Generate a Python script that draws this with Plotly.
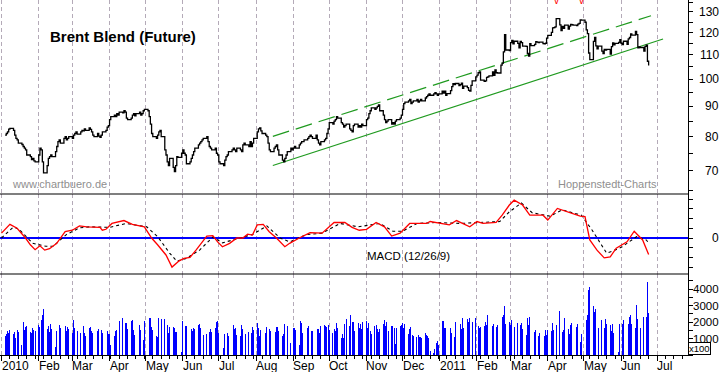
import math
import pandas as pd
import plotly.graph_objects as go

# ---------------- daily closes (USD/bbl), one list per month ----------------
close_2010_01 = [80.5, 81.0, 81.5, 82.4, 82.6, 82.0, 80.5, 79.5, 79.0, 78.0, 77.6, 77.0, 76.5, 76.0, 74.5, 74.0, 73.2, 73.5, 72.8, 72.5]
close_2010_02 = [74.5, 76.5, 76.0, 72.5, 69.5, 71.5, 73.5, 74.0, 74.5, 74.0, 75.5, 77.0, 78.5, 79.0, 78.0, 79.5, 80.0, 79.0, 79.5, 80.0]
close_2010_03 = [79.5, 80.5, 81.0, 81.5, 80.8, 81.5, 82.0, 81.8, 82.5, 82.0, 82.8, 82.3, 81.5, 80.5, 80.0, 81.0, 80.2, 79.8, 80.5, 81.5, 82.0, 83.0, 83.5]
close_2010_04 = [85.5, 86.5, 87.0, 86.5, 87.5, 87.0, 88.0, 87.8, 88.5, 88.0, 86.0, 85.5, 86.0, 87.0, 87.5, 86.8, 87.5, 88.0, 87.0, 87.5, 88.5, 89.0]
close_2010_05 = [88.5, 86.5, 84.0, 81.0, 80.0, 79.5, 80.5, 81.5, 82.0, 80.0, 76.0, 74.5, 72.5, 71.5, 73.5, 71.0, 69.8, 71.5, 74.0, 73.8, 75.0]
close_2010_06 = [76.0, 75.0, 74.5, 72.0, 72.5, 73.5, 74.5, 75.5, 76.5, 77.5, 78.0, 78.5, 79.0, 79.5, 80.0, 78.5, 77.0, 76.5, 76.0, 76.5, 75.0, 74.5]
close_2010_07 = [72.5, 72.0, 71.5, 73.0, 74.0, 74.5, 75.5, 76.0, 76.5, 76.0, 75.5, 76.5, 76.0, 75.5, 77.5, 78.0, 77.5, 77.0, 78.5, 77.0, 78.0, 79.5]
close_2010_08 = [81.5, 82.5, 82.8, 81.8, 81.0, 80.5, 80.0, 78.0, 76.0, 75.5, 76.5, 77.0, 77.5, 76.0, 74.5, 73.0, 72.5, 73.5, 74.5, 75.5, 76.5, 76.0]
close_2010_09 = [76.5, 77.0, 76.5, 77.5, 78.0, 78.5, 78.5, 79.0, 79.5, 80.0, 80.5, 80.0, 79.5, 80.5, 79.0, 78.0, 77.5, 78.5, 79.0, 79.5, 81.0, 82.5]
close_2010_10 = [84.5, 84.0, 85.0, 85.5, 86.5, 86.0, 84.5, 84.0, 83.0, 83.5, 84.0, 82.5, 82.0, 81.5, 83.5, 84.0, 83.0, 83.5, 83.0, 84.0, 83.5]
close_2010_11 = [85.5, 86.0, 87.5, 88.5, 89.5, 89.0, 89.5, 90.0, 90.5, 88.5, 87.0, 85.5, 84.5, 85.0, 85.5, 84.0, 84.5, 84.0, 85.0, 85.5, 86.0, 87.0]
close_2010_12 = [89.0, 91.0, 91.5, 92.0, 92.5, 91.0, 91.5, 92.0, 92.5, 91.5, 92.0, 92.5, 92.0, 93.0, 93.5, 94.0, 94.5, 94.0, 94.5, 95.0, 94.5, 94.0, 94.5]
close_2011_01 = [95.5, 94.8, 95.5, 94.0, 94.6, 95.7, 97.2, 98.3, 98.0, 98.4, 97.6, 98.0, 98.5, 96.6, 97.4, 96.8, 95.8, 95.5, 97.7, 99.4, 101.0]
close_2011_02 = [101.7, 102.6, 102.9, 99.7, 99.2, 99.4, 100.8, 101.0, 101.4, 102.9, 101.6, 103.8, 102.6, 102.5, 105.7, 106.5, 111.3, 119.0, 112.1, 111.8]
close_2011_03 = [115.4, 116.4, 114.8, 116.0, 115.0, 113.1, 115.9, 115.4, 113.8, 113.7, 110.6, 109.5, 114.9, 114.0, 114.6, 115.8, 115.6, 115.4, 115.6, 114.9, 114.8, 115.1, 117.4]
close_2011_04 = [118.7, 120.1, 122.2, 122.3, 122.7, 126.7, 123.6, 120.9, 122.9, 122.0, 123.5, 121.6, 123.0, 123.9, 123.7, 123.5, 123.3, 124.0, 124.4, 126.0, 125.9]
close_2011_05 = [124.9, 121.2, 119.5, 110.8, 108.0, 115.9, 117.7, 113.9, 112.6, 113.8, 111.6, 110.6, 112.4, 112.1, 112.4, 110.3, 113.6, 115.2, 114.4, 115.0, 115.5, 116.7]
close_2011_06 = [115.1, 114.5, 116.0, 114.6, 117.1, 117.7, 119.4, 118.8, 120.5, 119.0, 113.0, 113.5, 113.2, 111.6, 113.7, 114.2, 107.3, 105.5]

# ---------------- daily volume (x100 contracts), one list per month ----------------
vol_2010_01 = [1140, 1300, 1440, 1350, 1500, 1260, 1380, 1020, 1500, 1380, 600, 1980, 1500, 1680, 1740, 1380, 1320, 1620, 1500, 1440]
vol_2010_02 = [1800, 1700, 2100, 2400, 2760, 1560, 1740, 1380, 1860, 1560, 480, 1440, 1680, 1800, 1620, 1380, 1740, 1440, 1680, 1560]
vol_2010_03 = [1320, 2100, 1620, 1800, 1440, 1320, 1320, 1740, 1320, 1140, 1620, 1680, 1440, 1320, 1680, 1440, 1560, 1500, 1500, 1320, 1260, 1440, 1260]
vol_2010_04 = [1260, 600, 1140, 1440, 1500, 1800, 2040, 2220, 1680, 1920, 1920, 1560, 2040, 2100, 1500, 1200, 1860, 1800, 1500, 1440, 900, 2040]
vol_2010_05 = [2100, 2220, 2220, 1680, 1500, 1140, 1080, 2220, 1920, 2160, 2160, 2400, 1800, 1320, 1680, 1680, 1620, 1380, 1380, 1500, 180]
vol_2010_06 = [2040, 1800, 1740, 1740, 1440, 1560, 1440, 1620, 1560, 1800, 1860, 1620, 1800, 1200, 1260, 1620, 1380, 1560, 1380, 1620, 1980, 2040]
vol_2010_07 = [1320, 1380, 420, 1260, 1500, 1320, 1140, 1140, 1800, 1560, 1620, 1200, 1140, 1800, 1560, 1620, 1260, 1380, 1500, 1320, 1680, 1500]
vol_2010_08 = [1920, 1620, 1140, 1500, 1140, 1320, 1680, 1140, 1560, 1440, 1200, 1380, 1680, 1680, 1440, 1140, 1260, 1860, 1920, 1740, 720, 1800]
vol_2010_09 = [1620, 1620, 1500, 600, 2040, 1920, 1320, 1320, 1620, 1740, 1680, 1440, 1440, 1320, 1560, 1560, 1320, 1740, 1800, 1740, 1680, 1800]
vol_2010_10 = [1500, 1320, 1560, 1440, 1920, 1620, 1020, 1260, 1020, 1860, 2160, 1740, 2400, 1980, 1980, 1440, 1920, 1620, 1860, 1560, 1980]
vol_2010_11 = [2040, 1620, 1920, 1440, 1260, 1740, 1800, 1560, 1380, 1560, 1860, 2100, 1740, 1980, 1440, 1740, 1740, 1620, 660, 1620, 1740, 1800]
vol_2010_12 = [1920, 1620, 1860, 1260, 1560, 1680, 1200, 1140, 1080, 1200, 1080, 1080, 1020, 1320, 1200, 1140, 1020, 240, 100, 360, 720, 840, 600]
vol_2011_01 = [2040, 2040, 1620, 1620, 1560, 1620, 1320, 900, 1080, 1980, 240, 1860, 1560, 2220, 1620, 2160, 1980, 2220, 1980, 1980, 2220]
vol_2011_02 = [1980, 1740, 1620, 1680, 1740, 1980, 1800, 2400, 1680, 1740, 1860, 1860, 1680, 1800, 1200, 2280, 2400, 3000, 1860, 1980]
vol_2011_03 = [1800, 2100, 2040, 1680, 1920, 1920, 1800, 1920, 1560, 1200, 2220, 1800, 2280, 1500, 1400, 1500, 1560, 1140, 1320, 1680, 1140, 1500, 1200]
vol_2011_04 = [1500, 1440, 1920, 1500, 1500, 1800, 2640, 2040, 1380, 1500, 2220, 1560, 1260, 1800, 1920, 720, 1680, 1860, 1560, 780, 1260]
vol_2011_05 = [1500, 2100, 2400, 3960, 4140, 3000, 2600, 2760, 2400, 1620, 2100, 1500, 1620, 2160, 1860, 1800, 1440, 1860, 1320, 1500, 180, 1860]
vol_2011_06 = [1620, 1860, 2100, 1560, 1860, 2280, 2400, 1860, 1620, 3060, 2160, 1980, 1620, 2280, 2160, 2280, 4440, 2520]

# first trading day of each month in the chart
month_first_days = ["2010-01-04", "2010-02-01", "2010-03-01", "2010-04-01", "2010-05-03", "2010-06-01",
                    "2010-07-01", "2010-08-02", "2010-09-01", "2010-10-01", "2010-11-01", "2010-12-01",
                    "2011-01-03", "2011-02-01", "2011-03-01", "2011-04-01", "2011-05-02", "2011-06-01"]
close_months = [close_2010_01, close_2010_02, close_2010_03, close_2010_04, close_2010_05, close_2010_06,
                close_2010_07, close_2010_08, close_2010_09, close_2010_10, close_2010_11, close_2010_12,
                close_2011_01, close_2011_02, close_2011_03, close_2011_04, close_2011_05, close_2011_06]
vol_months = [vol_2010_01, vol_2010_02, vol_2010_03, vol_2010_04, vol_2010_05, vol_2010_06,
              vol_2010_07, vol_2010_08, vol_2010_09, vol_2010_10, vol_2010_11, vol_2010_12,
              vol_2011_01, vol_2011_02, vol_2011_03, vol_2011_04, vol_2011_05, vol_2011_06]

# ---------------- MACD (12/26/9) and signal ----------------
macd_dates = ["2010-01-01", "2010-01-08", "2010-01-14", "2010-01-21", "2010-01-25", "2010-01-29",
              "2010-02-02", "2010-02-06", "2010-02-10", "2010-02-16", "2010-02-23",
              "2010-03-01", "2010-03-07", "2010-03-13", "2010-03-24", "2010-03-26", "2010-03-29",
              "2010-04-03", "2010-04-13", "2010-04-20", "2010-04-30",
              "2010-05-06", "2010-05-11", "2010-05-18", "2010-05-23", "2010-05-29",
              "2010-06-02", "2010-06-07", "2010-06-12", "2010-06-17", "2010-06-21", "2010-06-26", "2010-06-30",
              "2010-07-04", "2010-07-10", "2010-07-16", "2010-07-21", "2010-07-25", "2010-07-29",
              "2010-08-02", "2010-08-07", "2010-08-12", "2010-08-18", "2010-08-25", "2010-08-29",
              "2010-09-06", "2010-09-15", "2010-09-25",
              "2010-10-05", "2010-10-14", "2010-10-20", "2010-10-26",
              "2010-11-01", "2010-11-09", "2010-11-16", "2010-11-22", "2010-11-29",
              "2010-12-07", "2010-12-21", "2010-12-24",
              "2011-01-09", "2011-01-15", "2011-01-26",
              "2011-02-01", "2011-02-06", "2011-02-17", "2011-02-22", "2011-02-28",
              "2011-03-04", "2011-03-11", "2011-03-17", "2011-03-28",
              "2011-04-01", "2011-04-09", "2011-04-17", "2011-04-28",
              "2011-05-02", "2011-05-06", "2011-05-12", "2011-05-18", "2011-05-23", "2011-05-28",
              "2011-06-06", "2011-06-12", "2011-06-19", "2011-06-24"]
macd_vals = [0.5, 1.4, 1.0, 0.0, -0.7, -1.2,
             -0.8, -1.25, -1.1, -0.55, 0.65,
             0.8, 1.25, 1.15, 1.1, 0.8, 0.9,
             1.5, 1.8, 1.4, 1.15,
             0.0, -0.7, -1.75, -3.0, -2.35,
             -2.1, -2.0, -1.25, -0.4, 0.2, 0.25, -0.4,
             -0.9, -0.55, 0.0, 0.0, 0.4, 0.3,
             1.35, 1.4, 0.65, 0.0, -0.9, -0.55,
             0.0, 0.55, 0.5,
             1.6, 1.6, 1.1, 0.8,
             0.9, 1.6, 1.15, 0.2, 0.5,
             1.5, 1.5, 1.7,
             1.35, 1.8, 1.15,
             1.7, 1.5, 1.6, 2.35, 3.4,
             3.9, 3.4, 2.35, 2.35,
             1.85, 3.05, 2.7, 2.25,
             2.2, -0.2, -1.25, -2.05, -1.95, -1.05,
             -0.4, 0.7, -0.2, -1.7]
signal_dates = ["2010-01-01", "2010-01-11", "2010-01-16", "2010-01-27",
                "2010-02-07", "2010-02-13", "2010-02-24",
                "2010-03-07", "2010-03-15", "2010-03-24",
                "2010-04-01", "2010-04-15",
                "2010-05-02", "2010-05-11", "2010-05-21", "2010-05-27",
                "2010-06-04", "2010-06-15", "2010-06-26",
                "2010-07-04", "2010-07-13", "2010-07-29",
                "2010-08-10", "2010-08-21", "2010-08-29",
                "2010-09-12", "2010-09-25",
                "2010-10-10", "2010-10-25",
                "2010-11-12", "2010-11-23",
                "2010-12-01", "2010-12-13", "2010-12-29",
                "2011-01-18",
                "2011-02-06", "2011-02-20", "2011-02-28",
                "2011-03-10", "2011-03-19",
                "2011-04-03", "2011-04-13", "2011-04-29",
                "2011-05-08", "2011-05-20", "2011-05-25",
                "2011-06-02", "2011-06-14", "2011-06-22", "2011-06-24"]
signal_vals = [0.0, 1.15, 0.85, -0.55,
               -0.85, -0.85, 0.35,
               1.05, 1.15, 1.1,
               1.1, 1.5,
               1.15, 0.15, -1.55, -2.4,
               -2.1, -1.25, 0.1,
               -0.5, -0.2, 0.35,
               1.25, 0.0, -0.4,
               0.35, 0.5,
               1.5, 1.15,
               1.5, 0.7,
               0.7, 1.5, 1.6,
               1.5,
               1.6, 1.7, 2.7,
               3.6, 2.6,
               2.25, 2.9, 2.35,
               0.8, -1.55, -1.35,
               -0.9, 0.15, -0.2, -0.5]

# ---------------- trend channel (end points) ----------------
channel_low_dates = ["2010-08-15", "2011-07-06"]
channel_low_vals = [71.5, 117.0]
channel_up_dates = ["2010-08-15", "2011-06-26"]
channel_up_vals = [80.1, 128.1]

# ---------------- axis ticks / labels ----------------
month_ticks = ["2010-01-01", "2010-02-01", "2010-03-01", "2010-04-01", "2010-05-01", "2010-06-01",
               "2010-07-01", "2010-08-01", "2010-09-01", "2010-10-01", "2010-11-01", "2010-12-01",
               "2011-01-01", "2011-02-01", "2011-03-01", "2011-04-01", "2011-05-01", "2011-06-01",
               "2011-07-01"]
month_labels = ["2010", "Feb", "Mar", "Apr", "May", "Jun", "Jul", "Aug", "Sep", "Oct", "Nov", "Dec",
                "2011", "Feb", "Mar", "Apr", "May", "Jun", "Jul"]
price_labels = [70, 80, 90, 100, 110, 120, 130]
price_minor_ticks = [65, 70, 75, 80, 85, 90, 95, 100, 105, 110, 115, 120, 125, 130, 135]
volume_labels = [1000, 2000, 3000, 4000]
peak_marker_dates = ["2011-04-08", "2011-04-29"]

# ---------------- build daily series ----------------
dates, closes, volumes = [], [], []
for first, cl, vo in zip(month_first_days, close_months, vol_months):
    start = pd.Timestamp(first)
    end = start + pd.offsets.MonthEnd(0)
    days = pd.bdate_range(start, end)
    for d, c, v in zip(days, cl, vo):
        dates.append(d)
        closes.append(c)
        volumes.append(v)

FONT = "Liberation Sans, Arial, sans-serif"
GREEN = "#1f9a1f"
GRID = "#b4aab8"
DAY_MS = 86400000

fig = go.Figure()
fig.add_trace(go.Scatter(x=channel_low_dates, y=channel_low_vals, mode="lines",
                         line=dict(color=GREEN, width=1.2), xaxis="x", yaxis="y"))
fig.add_trace(go.Scatter(x=channel_up_dates, y=channel_up_vals, mode="lines",
                         line=dict(color=GREEN, width=1.2, dash="17px,7px"), xaxis="x", yaxis="y"))
fig.add_trace(go.Scatter(x=dates, y=closes, mode="lines",
                         line=dict(color="black", width=1.3, shape="hv"), xaxis="x", yaxis="y"))
fig.add_trace(go.Scatter(x=signal_dates, y=signal_vals, mode="lines",
                         line=dict(color="black", width=1.1, dash="3px,3px"), xaxis="x", yaxis="y2"))
fig.add_trace(go.Scatter(x=macd_dates, y=macd_vals, mode="lines",
                         line=dict(color="#ff0000", width=1.3), xaxis="x", yaxis="y2"))
fig.add_trace(go.Bar(x=dates, y=volumes, width=0.72 * DAY_MS,
                     marker=dict(color="#0000ff", line=dict(width=0)), xaxis="x", yaxis="y3"))

H_PLOT = 355.0
d_price = [1 - 194 / H_PLOT, 1]
d_macd = [1 - 274 / H_PLOT, 1 - 194 / H_PLOT]
d_vol = [0, 1 - 274 / H_PLOT]

fig.update_layout(
    width=723, height=372,
    margin=dict(l=0, r=35, t=0, b=17, autoexpand=False),
    paper_bgcolor="white", plot_bgcolor="white",
    showlegend=False, bargap=0, hovermode=False,
    font=dict(family=FONT, color="black", size=12),
    xaxis=dict(
        type="date", range=["2009-12-30 18:00", "2011-07-26 19:00"], anchor="y3", automargin=False,
        tickmode="array", tickvals=month_ticks, showticklabels=False,
        ticks="outside", ticklen=5, tickcolor="black", tickwidth=1,
        showgrid=True, gridcolor=GRID, gridwidth=1, griddash="4px,3px",
        showline=True, linecolor="black", linewidth=1, zeroline=False,
        minor=dict(ticks="outside", ticklen=3, tickcolor="black", dtick=7 * DAY_MS,
                   tick0="2010-01-08", showgrid=False),
    ),
    yaxis=dict(
        type="log", domain=d_price, range=[math.log10(64.0), math.log10(136.2)], automargin=False,
        side="right", anchor="x", showgrid=False, zeroline=False,
        showline=True, linecolor="black", linewidth=1,
        tickmode="array", tickvals=price_minor_ticks, ticks="outside", ticklen=4, tickcolor="black",
        showticklabels=False,
    ),
    yaxis2=dict(
        domain=d_macd, range=[-3.711, 4.536], side="right", anchor="x", automargin=False,
        showgrid=False, zeroline=True, zerolinecolor="#0000ff", zerolinewidth=1.5,
        showline=True, linecolor="black", linewidth=1,
        tickmode="linear", tick0=0, dtick=1, ticks="outside", ticklen=4, tickcolor="black",
        showticklabels=False,
    ),
    yaxis3=dict(
        domain=d_vol, range=[0, 4910], side="right", anchor="x", automargin=False,
        showgrid=False, zeroline=False,
        showline=True, linecolor="black", linewidth=1,
        tickmode="linear", tick0=0, dtick=500, ticks="outside", ticklen=4, tickcolor="black",
        showticklabels=False,
    ),
)

# panel separators
for yp in (d_price[0], d_macd[0]):
    fig.add_shape(type="line", xref="paper", yref="paper", x0=0, x1=1, y0=yp, y1=yp,
                  line=dict(color="black", width=1.2))

LBL_X = 721 / 688.0
ann = []
for d, t in zip(month_ticks, month_labels):
    ann.append(dict(x=d, xref="x", y=0, yref="paper", text=t, showarrow=False,
                    xanchor="left", yanchor="top", yshift=-2, xshift=-2,
                    font=dict(family=FONT, size=12, color="black")))
for v in price_labels:
    ann.append(dict(x=LBL_X, xref="paper", y=math.log10(v), yref="y", text=str(v), showarrow=False,
                    xanchor="right", yanchor="middle", font=dict(family=FONT, size=12, color="black")))
ann.append(dict(x=LBL_X, xref="paper", y=0, yref="y2", text="0", showarrow=False,
                xanchor="right", yanchor="middle", font=dict(family=FONT, size=12, color="black")))
for v in volume_labels:
    ann.append(dict(x=LBL_X, xref="paper", y=v, yref="y3", text=str(v), showarrow=False,
                    xanchor="right", yanchor="middle", font=dict(family=FONT, size=11.5, color="black")))
ann.append(dict(x=699 / 688.0, xref="paper", y=(355 - 348) / H_PLOT, yref="paper", text="x100",
                showarrow=False, xanchor="center", yanchor="middle", bgcolor="white",
                bordercolor="black", borderwidth=1, borderpad=0,
                font=dict(family=FONT, size=9.5, color="black")))
ann.append(dict(x=48 / 688.0, xref="paper", y=1 - 37 / H_PLOT, yref="paper",
                text="<b>Brent Blend (Future)</b>", showarrow=False, xanchor="left", yanchor="middle",
                font=dict(family=FONT, size=15, color="black")))
ann.append(dict(x=10 / 688.0, xref="paper", y=1 - 184 / H_PLOT, yref="paper",
                text="www.chartbuero.de", showarrow=False, xanchor="left", yanchor="middle",
                font=dict(family=FONT, size=11, color="#8f8f8f")))
ann.append(dict(x=556 / 688.0, xref="paper", y=1 - 184 / H_PLOT, yref="paper",
                text="Hoppenstedt-Charts", showarrow=False, xanchor="left", yanchor="middle",
                font=dict(family=FONT, size=11, color="#8f8f8f")))
ann.append(dict(x=365 / 688.0, xref="paper", y=1 - 256 / H_PLOT, yref="paper",
                text="MACD (12/26/9)", showarrow=False, xanchor="left", yanchor="middle",
                font=dict(family=FONT, size=11.5, color="black")))
for d in peak_marker_dates:
    ann.append(dict(x=d, xref="x", y=1 - 1 / H_PLOT, yref="paper", text="v", showarrow=False,
                    xanchor="center", yanchor="middle", font=dict(family=FONT, size=10, color="#ff0000")))
fig.update_layout(annotations=ann)

fig.write_html("out.html", config={"displayModeBar": False, "staticPlot": True},
               post_script="document.body.style.margin='0';document.body.style.overflow='hidden';")
